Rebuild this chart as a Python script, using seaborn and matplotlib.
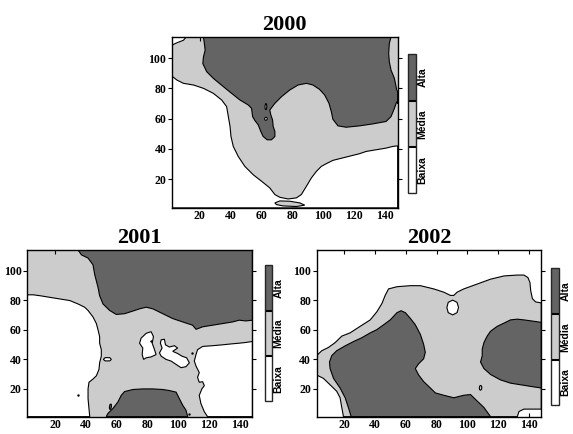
import matplotlib
matplotlib.use("Agg")
import matplotlib.pyplot as plt
import seaborn as sns
from matplotlib.colors import ListedColormap, BoundaryNorm
from matplotlib.cm import ScalarMappable

# classes (0 = Baixa, 1 = Media, 2 = Alta)
CLASS_LABELS = ["Baixa", "Média", "Alta"]
CLASS_COLORS = ["#ffffff", "#cccccc", "#646464"]

X_TICKS = [20, 40, 60, 80, 100, 120, 140]
Y_TICKS = [20, 40, 60, 80, 100]
X_RANGE = [2, 148]
Y_RANGE = [1, 114]

# ---- 2000 outlines (grid units) ----
BAIXA_2000_LOW = [(2, 88.1), (5.2, 85.5), (9.5, 83.3), (16.0, 82.2), (22.4, 80.0), (28.8, 76.7),
                  (34.2, 72.3), (37.4, 67.9), (38.5, 61.3), (39.6, 54.8), (40.2, 48.2), (41.7, 41.6),
                  (44.9, 35.0), (49.2, 28.4), (54.6, 22.9), (60.0, 18.6), (65.3, 14.2), (68.6, 9.8),
                  (71.8, 8.0), (77.1, 6.9), (82.5, 7.6), (85.7, 9.8), (89.0, 15.3), (92.2, 20.8),
                  (95.4, 25.1), (98.6, 28.4), (101.8, 30.2), (106.1, 32.4), (114.7, 34.6),
                  (123.3, 36.8), (127.6, 38.3), (134.0, 39.4), (140.5, 40.5), (144.8, 41.6),
                  (148, 42.0), (148, 1), (2, 1)]
BAIXA_2000_CORNER = [(2, 114), (11.2, 114), (9.5, 111.8), (5.2, 110.1), (2, 108.5)]
MEDIA_2000_BLOB = [(68.6, 4.3), (71.8, 5.6), (78.2, 5.4), (84.7, 4.3), (87.9, 2.8), (82.5, 1.9),
                   (73.9, 2.3), (69.6, 3.2)]
ALTA_2000 = [(22.4, 114), (23.0, 109.6), (23.5, 105.2), (22.4, 100.8), (22.0, 96.4), (24.5, 91.0),
             (28.8, 86.6), (35.3, 81.1), (40.6, 76.7), (46.0, 72.3), (51.4, 69.0), (53.5, 66.8),
             (54.2, 61.3), (55.7, 58.7), (57.8, 55.9), (59.5, 51.5), (61.0, 48.2), (63.6, 46.0),
             (66.4, 46.0), (68.6, 48.2), (68.6, 51.5), (67.5, 54.8), (67.1, 59.1), (66.0, 62.4),
             (65.3, 65.7), (68.6, 70.1), (72.9, 74.5), (78.2, 78.9), (83.6, 82.2), (89.0, 83.3),
             (93.2, 82.2), (97.5, 79.3), (100.8, 75.6), (103.6, 70.1), (105.1, 64.6), (106.1, 59.6),
             (109.4, 55.2), (114.7, 54.3), (123.3, 55.2), (131.9, 56.5), (140.5, 58.1),
             (143.7, 61.3), (145.9, 66.8), (147.4, 71.2), (148, 70), (148, 78), (147.4, 78.9),
             (145.9, 86.6), (143.7, 92.1), (142.6, 97.5), (142.2, 103.0), (142.6, 109.6),
             (143.7, 114)]
BAIXA_2000_ISLE_A = [(62.2, 67.9), (62.5, 69.6), (62.8, 70.0), (63.2, 69.5), (63.4, 67.9),
                     (63.1, 66.2), (62.8, 65.9), (62.4, 66.3)]
BAIXA_2000_ISLE_B = [(61.9, 59.8), (62.3, 60.6), (62.9, 60.9), (63.5, 60.5), (63.7, 59.8),
                     (63.3, 59.1), (62.7, 58.9), (62.1, 59.2)]

# ---- 2001 outlines ----
ALTA_2001_TOP = [(34.9, 114), (37.1, 110.7), (41.4, 108.5), (44.6, 104.0), (45.7, 97.4),
                 (47.9, 88.5), (48.9, 83.0), (51.1, 77.4), (55.4, 73.0), (59.7, 70.3), (65.1, 70.8),
                 (70.5, 72.6), (74.8, 74.1), (79.1, 75.2), (83.4, 74.1), (87.7, 71.9), (92.0, 69.7),
                 (96.3, 67.5), (102.8, 65.2), (109.2, 63.0), (111.4, 60.2), (115.7, 61.9),
                 (122.1, 63.0), (128.6, 64.1), (135.1, 65.2), (139.4, 66.4), (143.7, 65.9),
                 (148, 66.4), (148, 114)]
BAIXA_2001_LEFT = [(2, 83.6), (5.9, 83.6), (10.2, 83.0), (16.6, 81.9), (23.1, 80.8), (29.6, 79.7),
                   (34.9, 77.4), (39.2, 75.2), (41.4, 73.0), (44.6, 68.6), (46.8, 64.1), (47.9, 59.7),
                   (48.9, 55.3), (48.9, 50.8), (50.0, 46.4), (50.0, 42.0), (48.9, 37.5), (48.5, 33.1),
                   (46.8, 28.7), (44.6, 26.5), (42.0, 24.3), (41.4, 19.8), (41.4, 13.2), (42.0, 6.5),
                   (42.5, 1), (2, 1)]
BAIXA_2001_RIGHT = [(148, 52.0), (143.7, 51.3), (139.4, 50.8), (135.1, 50.4), (128.6, 49.7),
                    (122.1, 49.1), (115.7, 48.6), (112.4, 46.4), (111.4, 43.1), (110.3, 38.7),
                    (111.4, 35.3), (113.5, 30.9), (112.4, 27.6), (113.5, 24.3), (115.7, 24.7),
                    (116.8, 22.0), (115.2, 19.8), (113.5, 15.4), (114.6, 9.8), (116.8, 4.3),
                    (118.9, 1), (148, 1)]
ALTA_2001_BOTTOM = [(53.2, 1), (54.3, 3.2), (57.5, 6.5), (60.8, 11.0), (62.9, 15.4), (65.1, 18.0),
                    (70.5, 19.4), (76.9, 19.8), (83.4, 19.8), (89.8, 19.4), (94.1, 18.7),
                    (98.5, 17.6), (100.6, 13.2), (102.8, 8.7), (104.9, 5.4), (106.0, 1)]
BAIXA_2001_ISLE_A = [(75.8, 54.2), (79.1, 57.5), (82.3, 58.6), (83.8, 55.3), (83.0, 50.8),
                     (84.5, 46.4), (85.5, 43.1), (82.3, 41.5), (79.1, 40.9), (77.4, 39.8),
                     (76.5, 43.1), (76.9, 47.5), (74.8, 50.8)]
BAIXA_2001_ISLE_B = [(88.8, 53.1), (90.9, 53.5), (91.6, 49.7), (94.1, 48.2), (97.4, 49.1),
                     (99.5, 47.5), (96.3, 45.3), (99.5, 43.8), (102.3, 42.0), (105.3, 40.9),
                     (107.1, 37.5), (104.9, 34.9), (101.7, 34.2), (98.5, 36.4), (95.2, 38.7),
                     (92.0, 39.8), (88.8, 42.0), (87.7, 44.2), (89.4, 47.5), (88.3, 50.8)]
BAIXA_2001_ISLE_C = [(51.3, 39.8), (52.5, 41.0), (55.5, 41.0), (56.5, 39.8), (55.5, 38.8),
                     (52.5, 38.8)]
ALTA_2001_SPOT = [(55.2, 7.0), (55.6, 9.2), (56.4, 9.6), (56.6, 8.0), (56.2, 6.2), (55.6, 5.8)]
DOTS_2001_X = [34.9, 108.6, 107.1, 82.3]
DOTS_2001_Y = [15.8, 44.2, 2.5, 52.6]

# ---- 2002 outlines ----
MEDIA_2002 = [(2, 42.4), (5.3, 45.7), (9.6, 47.9), (14.0, 51.2), (18.3, 55.6), (23.7, 57.8),
              (30.2, 62.2), (36.8, 66.6), (41.1, 72.1), (44.4, 77.7), (46.5, 83.2), (48.7, 87.6),
              (54.2, 89.1), (62.8, 89.8), (69.4, 89.8), (78.1, 87.6), (84.6, 85.4), (88.9, 83.2),
              (91.1, 83.2), (93.3, 85.4), (97.6, 87.6), (106.3, 90.9), (115.0, 94.2),
              (123.7, 96.4), (132.4, 97.0), (136.7, 97.0), (139.3, 95.3), (140.6, 92.0),
              (141.1, 86.5), (142.2, 81.0), (144.3, 78.8), (148, 78.1), (148, 6.1), (144.3, 6.1),
              (136.7, 6.1), (133.5, 4.5), (132.4, 1), (19.4, 1), (18.3, 7.2), (17.2, 13.8),
              (15.0, 18.2), (10.7, 22.6), (6.3, 27.0), (2, 29.2)]
BAIXA_2002_HOLE = [(86.6, 75.0), (87.5, 78.5), (90.4, 80.0), (93.2, 78.5), (94.2, 75.0),
                   (93.2, 71.5), (90.4, 70.0), (87.5, 71.5)]
ALTA_2002_LEFT = [(24.4, 1), (22.6, 7.2), (20.5, 13.8), (17.2, 20.4), (12.9, 27.0), (10.7, 33.6),
                  (10.3, 38.0), (11.8, 42.4), (15.0, 45.7), (20.5, 49.0), (25.9, 51.9), (31.3, 54.5),
                  (36.8, 57.8), (41.1, 60.0), (45.5, 63.3), (49.8, 66.6), (54.2, 71.5), (56.8, 72.8),
                  (59.6, 71.5), (62.8, 67.7), (66.1, 63.3), (69.4, 56.7), (71.5, 50.1), (72.6, 44.6),
                  (71.5, 40.2), (68.3, 36.9), (66.1, 33.6), (68.3, 29.2), (71.5, 24.8), (75.9, 20.4),
                  (79.1, 17.1), (84.6, 15.5), (91.1, 13.8), (97.6, 15.5), (102.0, 16.0),
                  (105.2, 12.7), (110.7, 7.2), (115.0, 1)]
ALTA_2002_RIGHT = [(148, 64.9), (144.3, 65.5), (136.7, 66.6), (132.4, 67.1), (128.0, 66.6),
                   (123.7, 64.4), (119.3, 62.2), (115.0, 58.9), (112.8, 55.6), (110.7, 51.2),
                   (109.6, 46.8), (109.6, 42.4), (108.5, 38.0), (110.7, 33.6), (115.0, 29.6),
                   (121.5, 25.9), (128.0, 23.7), (134.6, 22.6), (141.1, 21.5), (148, 20.4)]
MEDIA_2002_LOOP = [(107.7, 20.4), (108.0, 21.8), (108.7, 22.2), (109.3, 21.3), (109.2, 19.6),
                   (108.5, 18.9), (107.9, 19.3)]

PANELS = {
    "2000": (1, [(0, BAIXA_2000_LOW), (0, BAIXA_2000_CORNER), (1, MEDIA_2000_BLOB),
                 (2, ALTA_2000), (0, BAIXA_2000_ISLE_A), (0, BAIXA_2000_ISLE_B)]),
    "2001": (1, [(2, ALTA_2001_TOP), (0, BAIXA_2001_LEFT), (0, BAIXA_2001_RIGHT),
                 (2, ALTA_2001_BOTTOM), (0, BAIXA_2001_ISLE_A), (0, BAIXA_2001_ISLE_B),
                 (0, BAIXA_2001_ISLE_C), (2, ALTA_2001_SPOT)]),
    "2002": (0, [(1, MEDIA_2002), (0, BAIXA_2002_HOLE), (2, ALTA_2002_LEFT),
                 (2, ALTA_2002_RIGHT), (1, MEDIA_2002_LOOP)]),
}

# axes boxes in figure fractions: map, colorbar
BOXES = {
    "2000": ([0.300, 0.521, 0.394, 0.394], [0.712, 0.555, 0.014, 0.320]),
    "2001": ([0.0476, 0.040, 0.393, 0.384], [0.4625, 0.075, 0.012, 0.314]),
    "2002": ([0.5527, 0.040, 0.392, 0.384], [0.962, 0.066, 0.0135, 0.316]),
}


def draw_panel(fig, year):
    background, layers = PANELS[year]
    box, cbox = BOXES[year]
    ax = fig.add_axes(box)
    ax.set_facecolor(CLASS_COLORS[background])
    for cls, outline in layers:
        xs, ys = zip(*outline)
        ax.fill(xs, ys, facecolor=CLASS_COLORS[cls], edgecolor="black", linewidth=0.8)
    if year == "2001":
        sns.scatterplot(x=DOTS_2001_X, y=DOTS_2001_Y, ax=ax, color="black", s=3,
                        linewidth=0, legend=False)
    ax.set_xlim(X_RANGE)
    ax.set_ylim(Y_RANGE)
    ax.set_xticks(X_TICKS)
    ax.set_yticks(Y_TICKS)
    ax.tick_params(axis="y", direction="out", length=3, width=0.8, left=True, right=True,
                   labelsize=8.5, pad=1)
    ax.tick_params(axis="x", direction="in", length=3, width=0.8, bottom=True, top=True,
                   labelsize=8.5, pad=1.5)
    for lab in ax.get_xticklabels() + ax.get_yticklabels():
        lab.set_fontweight("bold")
    for sp in ax.spines.values():
        sp.set_linewidth(1)
        sp.set_color("black")
    ax.set_title(year, fontsize=16, fontweight="bold", pad=5)

    # class legend bar
    cax = fig.add_axes(cbox)
    cmap = ListedColormap(CLASS_COLORS)
    norm = BoundaryNorm([0, 1, 2, 3], 3)
    cb = fig.colorbar(ScalarMappable(norm=norm, cmap=cmap), cax=cax, ticks=[0.5, 1.5, 2.5])
    cb.ax.minorticks_off()
    cb.ax.set_yticklabels(CLASS_LABELS, rotation=90, va="center", fontweight="bold",
                          family="Liberation Sans", fontsize=7.5)
    cb.ax.tick_params(which="both", length=0, pad=1)
    cb.outline.set_linewidth(1)
    for b in [1, 2]:
        cax.axhline(b, color="black", linewidth=1.5)


def main():
    sns.set_theme(style="ticks")
    plt.rcParams["font.family"] = ["Liberation Serif", "DejaVu Serif"]
    plt.rcParams["text.color"] = "black"
    plt.rcParams["xtick.color"] = "black"
    plt.rcParams["ytick.color"] = "black"
    plt.rcParams["xtick.labelcolor"] = "black"
    plt.rcParams["ytick.labelcolor"] = "black"

    fig = plt.figure(figsize=(5.73, 4.34), dpi=100)
    for year in ["2000", "2001", "2002"]:
        draw_panel(fig, year)
    fig.savefig("out.png", dpi=100)


if __name__ == "__main__":
    main()
